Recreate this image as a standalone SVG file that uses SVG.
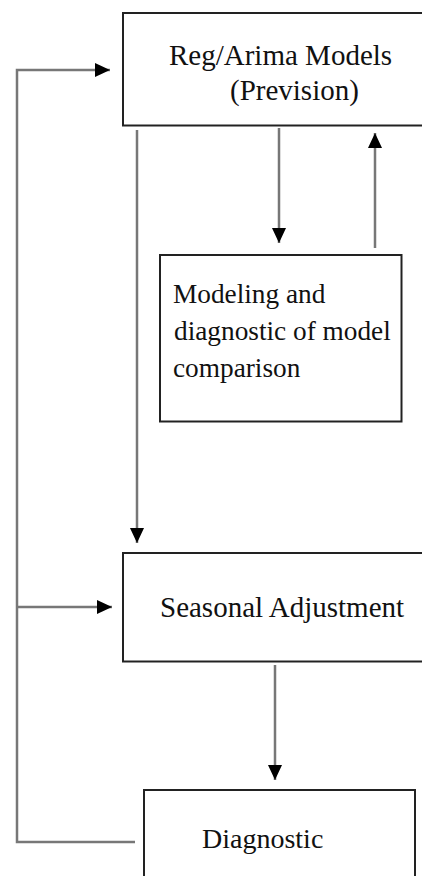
<svg xmlns="http://www.w3.org/2000/svg" width="422" height="876" viewBox="0 0 422 876">
<defs>
<style>
.box{fill:#fff;stroke:#222;stroke-width:2}
.conn{fill:none;stroke:#777;stroke-width:2.5}
.lbl{font-family:"Liberation Serif","Times New Roman",serif;fill:#111}
.big{font-size:29px}
.mid{font-size:28px}
.small{font-size:27.3px}
</style>
<marker id="ah" markerUnits="userSpaceOnUse" markerWidth="16" markerHeight="16" viewBox="0 0 16 16" refX="15" refY="8" orient="auto">
<path d="M0,1 L15,8 L0,15 Z" fill="#000"/>
</marker>
</defs>
<rect width="422" height="876" fill="#fff"/>
<g id="connectors">
<line class="conn" x1="279" y1="128" x2="279" y2="243" marker-end="url(#ah)"/>
<line class="conn" x1="375" y1="248" x2="375" y2="133" marker-end="url(#ah)"/>
<line class="conn" x1="137" y1="130" x2="137" y2="543" marker-end="url(#ah)"/>
<line class="conn" x1="275" y1="665" x2="275" y2="780" marker-end="url(#ah)"/>
<polyline class="conn" points="135,842 17,842 17,70 110,70" marker-end="url(#ah)"/>
<line class="conn" x1="17" y1="607" x2="112" y2="607" marker-end="url(#ah)"/>
</g>
<g id="reg-arima">
<rect class="box" x="123" y="13" width="310" height="112.5"/>
<text class="lbl big" x="169" y="65">Reg/Arima Models</text>
<text class="lbl big" x="230" y="100">(Prevision)</text>
</g>
<g id="modeling">
<rect class="box" x="160" y="255" width="241.5" height="166.5"/>
<text class="lbl small" x="173" y="302.5">Modeling and</text>
<text class="lbl small" x="174" y="340">diagnostic of model</text>
<text class="lbl small" x="173" y="377">comparison</text>
</g>
<g id="seasonal">
<rect class="box" x="123" y="553" width="310" height="108.5"/>
<text class="lbl big" x="160" y="617">Seasonal Adjustment</text>
</g>
<g id="diagnostic">
<rect class="box" x="144" y="790" width="271" height="100"/>
<text class="lbl mid" x="202" y="848">Diagnostic</text>
</g>
</svg>
